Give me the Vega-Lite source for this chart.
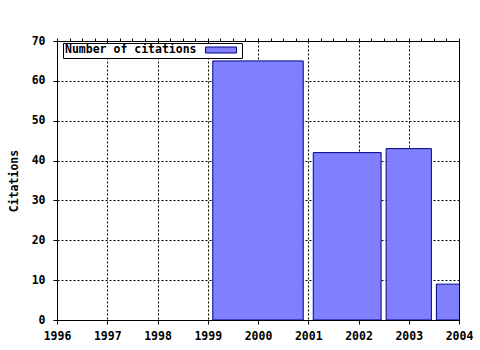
{
  "$schema": "https://vega.github.io/schema/vega-lite/v6.json",
  "width": 402,
  "height": 279,
  "autosize": "none",
  "padding": {"left": 57, "top": 41, "right": 21, "bottom": 30},
  "background": "white",
  "config": {
    "view": {"stroke": "black", "strokeWidth": 1},
    "font": "DejaVu Sans Mono",
    "axis": {
      "labelFont": "DejaVu Sans Mono",
      "labelFontSize": 11.5,
      "labelFontWeight": "bold",
      "labelColor": "black",
      "titleFont": "DejaVu Sans Mono",
      "titleFontSize": 11.5,
      "titleFontWeight": "bold",
      "titleColor": "black",
      "domainColor": "black",
      "tickColor": "black",
      "gridColor": "black",
      "gridDash": [2, 2],
      "gridWidth": 1
    }
  },
  "data": {
    "values": [
      {"start": 1999.1, "end": 2000.9, "citations": 65, "series": "Number of citations"},
      {"start": 2001.1, "end": 2002.45, "citations": 42, "series": "Number of citations"},
      {"start": 2002.55, "end": 2003.45, "citations": 43, "series": "Number of citations"},
      {"start": 2003.55, "end": 2004.45, "citations": 9, "series": "Number of citations"}
    ]
  },
  "layer": [
    {
      "mark": {"type": "rect", "stroke": "#000080", "strokeWidth": 1, "clip": true},
      "encoding": {
        "x": {
          "field": "start",
          "type": "quantitative",
          "scale": {"domain": [1996, 2004], "nice": false, "zero": false},
          "axis": {
            "orient": "bottom",
            "title": null,
            "values": [1996, 1996.25, 1996.5, 1996.75, 1997, 1997.25, 1997.5, 1997.75, 1998, 1998.25, 1998.5, 1998.75, 1999, 1999.25, 1999.5, 1999.75, 2000, 2000.25, 2000.5, 2000.75, 2001, 2001.25, 2001.5, 2001.75, 2002, 2002.25, 2002.5, 2002.75, 2003, 2003.25, 2003.5, 2003.75, 2004],
            "format": "d",
            "labelExpr": "datum.value % 1 === 0 ? datum.label : ''",
            "labelOverlap": false,
            "labelFlush": false,
            "labelPadding": 6,
            "tickSize": {"condition": {"test": "datum.value % 1 === 0", "value": 4}, "value": 2},
            "gridOpacity": {"condition": {"test": "datum.value % 1 === 0", "value": 1}, "value": 0},
            "grid": true
          }
        },
        "x2": {"field": "end"},
        "y": {
          "field": "citations",
          "type": "quantitative",
          "scale": {"domain": [0, 70], "nice": false},
          "axis": {
            "title": "Citations",
            "values": [0, 10, 20, 30, 40, 50, 60, 70],
            "tickSize": 4,
            "labelPadding": 8,
            "titlePadding": 12,
            "grid": true
          }
        },
        "y2": {"datum": 0},
        "fill": {
          "field": "series",
          "type": "nominal",
          "scale": {"range": ["#8080ff"]},
          "legend": {
            "orient": "none",
            "legendX": 6,
            "legendY": 2,
            "title": "Number of citations",
            "titleOrient": "left",
            "titleFont": "DejaVu Sans Mono",
            "titleFontSize": 11.5,
            "titleFontWeight": "bold",
            "titleColor": "black",
            "titlePadding": 19,
            "labelExpr": "''",
            "labelFontSize": 0,
            "labelLimit": 0,
            "labelOffset": 14,
            "strokeColor": "black",
            "fillColor": "white",
            "padding": 2,
            "symbolType": "M-5.17,-1H5.17V1H-5.17Z",
            "symbolSize": 36,
            "symbolStrokeColor": "#000080",
            "symbolStrokeWidth": 1,
            "symbolOpacity": 1
          }
        }
      }
    },
    {
      "mark": {"type": "rule", "opacity": 0},
      "encoding": {
        "x": {
          "field": "start",
          "type": "quantitative",
          "scale": {"domain": [1996, 2004], "nice": false, "zero": false},
          "axis": {
            "orient": "top",
            "title": null,
            "values": [1996, 1996.25, 1996.5, 1996.75, 1997, 1997.25, 1997.5, 1997.75, 1998, 1998.25, 1998.5, 1998.75, 1999, 1999.25, 1999.5, 1999.75, 2000, 2000.25, 2000.5, 2000.75, 2001, 2001.25, 2001.5, 2001.75, 2002, 2002.25, 2002.5, 2002.75, 2003, 2003.25, 2003.5, 2003.75, 2004],
            "labels": false,
            "domain": false,
            "grid": false,
            "tickSize": 3
          }
        }
      }
    }
  ],
  "resolve": {"axis": {"x": "independent"}}
}
